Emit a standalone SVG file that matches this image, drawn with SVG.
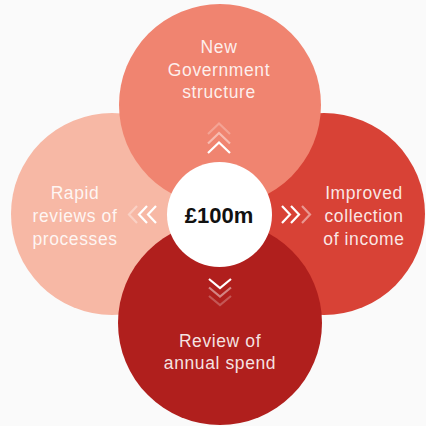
<svg xmlns="http://www.w3.org/2000/svg" width="426" height="426" viewBox="0 0 426 426">
<style>
.lbl{font-family:"Liberation Sans","Noto Sans",Arial,sans-serif;font-size:17.5px;letter-spacing:0.6px;fill:#ffffff;fill-opacity:0.88;text-anchor:middle}
.ctr{font-family:"Liberation Sans","Noto Sans",Arial,sans-serif;font-size:22px;font-weight:bold;fill:#111111;text-anchor:middle}
.chev{fill:none;stroke:#ffffff;stroke-width:2.2;stroke-linecap:butt;stroke-linejoin:miter}
</style>
<rect width="426" height="426" fill="#fafafa"/>
<g id="node-left">
<circle cx="112" cy="214" r="101" fill="#F7B8A5"/>
<text class="lbl" x="75" y="199">Rapid</text>
<text class="lbl" x="75" y="222">reviews of</text>
<text class="lbl" x="75" y="245">processes</text>
</g>
<g id="node-right">
<circle cx="324" cy="214" r="101" fill="#D84236"/>
<text class="lbl" x="364" y="199">Improved</text>
<text class="lbl" x="364" y="222">collection</text>
<text class="lbl" x="364" y="245">of income</text>
</g>
<g id="node-top">
<circle cx="220" cy="105" r="101" fill="#F08470"/>
<text class="lbl" x="219" y="53">New</text>
<text class="lbl" x="219" y="76">Government</text>
<text class="lbl" x="219" y="98">structure</text>
</g>
<g id="node-bottom">
<circle cx="220" cy="323" r="102" fill="#B01F1D"/>
<text class="lbl" x="220" y="347">Review of</text>
<text class="lbl" x="220" y="369">annual spend</text>
</g>
<g id="node-center">
<circle cx="219.5" cy="214.5" r="52.5" fill="#ffffff"/>
<text class="ctr" x="219" y="223">£100m</text>
</g>
<g id="connectors">
<polyline class="chev" points="208,153 219,142.5 230,153"/>
<polyline class="chev" points="208,143.5 219,133 230,143.5" stroke-opacity="0.45"/>
<polyline class="chev" points="208,134 219,123.5 230,134" stroke-opacity="0.25"/>
<polyline class="chev" points="209,279 220,288 231,279"/>
<polyline class="chev" points="209,287.5 220,296.5 231,287.5" stroke-opacity="0.45"/>
<polyline class="chev" points="209,296 220,305 231,296" stroke-opacity="0.25"/>
<polyline class="chev" points="156,206 148,214.5 156,223"/>
<polyline class="chev" points="147,206 139,214.5 147,223"/>
<polyline class="chev" points="137,206 129,214.5 137,223" stroke-opacity="0.35"/>
<polyline class="chev" points="282,206 290,214.5 282,223"/>
<polyline class="chev" points="291,206 299,214.5 291,223"/>
<polyline class="chev" points="302,206 310,214.5 302,223" stroke-opacity="0.45"/>
</g>
</svg>
